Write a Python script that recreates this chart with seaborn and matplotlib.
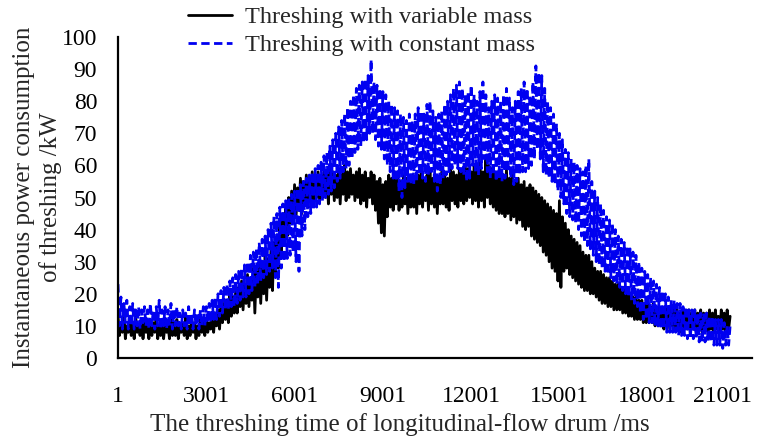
import numpy as np
import pandas as pd
import matplotlib
matplotlib.use("Agg")
import matplotlib.pyplot as plt
import matplotlib.transforms as mtransforms
import seaborn as sns

# sample times (ms), one reading every 50 ms
time_ms = np.arange(1, 20802, 50)

# Threshing with variable mass (kW) (20 readings per second)
variable_mass = [
    13, 7, 11, 8, 14, 6, 10, 8, 12, 7, 11, 6, 13, 8, 10, 7, 12, 6, 11, 8,
    10, 6, 12, 7, 11, 8, 13, 6, 10, 7, 12, 6, 11, 8, 10, 6, 12, 7, 11, 7,
    12, 6, 10, 8, 11, 7, 13, 6, 10, 7, 12, 8, 11, 6, 10, 7, 12, 8, 11, 7,
    12, 8, 11, 9, 13, 8, 14, 10, 15, 9, 16, 11, 17, 12, 18, 11, 20, 13, 19, 14,
    21, 14, 22, 16, 24, 15, 23, 17, 26, 16, 25, 18, 28, 14, 27, 19, 29, 17, 30, 20,
    32, 18, 31, 22, 34, 21, 36, 26, 38, 28, 42, 32, 44, 36, 48, 38, 50, 42, 52, 43,
    54, 44, 53, 46, 56, 45, 55, 48, 57, 47, 56, 49, 58, 48, 57, 50, 58, 49, 57, 50,
    58, 50, 57, 48, 59, 51, 58, 49, 57, 50, 59, 48, 58, 51, 60, 49, 58, 50, 59, 51,
    57, 49, 58, 50, 59, 48, 57, 49, 58, 47, 56, 50, 58, 48, 57, 46, 55, 42, 56, 39,
    54, 38, 55, 44, 57, 47, 56, 46, 58, 48, 57, 46, 55, 47, 57, 48, 56, 45, 55, 47,
    57, 47, 56, 45, 57, 48, 58, 47, 56, 49, 57, 46, 58, 48, 56, 47, 57, 45, 56, 48,
    58, 48, 57, 47, 56, 46, 59, 49, 58, 48, 57, 47, 59, 49, 58, 48, 60, 49, 59, 50,
    58, 48, 60, 49, 59, 47, 61, 49, 58, 47, 62, 50, 60, 48, 59, 47, 58, 46, 57, 45,
    58, 45, 57, 44, 59, 45, 56, 43, 57, 44, 55, 42, 56, 43, 54, 41, 55, 40, 53, 41,
    54, 38, 53, 37, 52, 36, 51, 35, 50, 33, 49, 32, 48, 30, 47, 28, 46, 27, 45, 24,
    49, 22, 44, 27, 42, 28, 40, 26, 38, 25, 37, 24, 36, 23, 35, 22, 33, 21, 32, 21,
    32, 20, 30, 20, 28, 19, 27, 18, 27, 17, 26, 17, 25, 16, 25, 16, 24, 15, 23, 15,
    23, 15, 22, 14, 22, 14, 21, 13, 20, 13, 19, 12, 19, 12, 18, 12, 18, 11, 17, 11,
    17, 11, 16, 11, 17, 10, 16, 10, 16, 10, 15, 9, 16, 10, 15, 9, 15, 10, 15, 9,
    15, 9, 14, 8, 15, 9, 14, 9, 15, 8, 14, 9, 15, 8, 14, 9, 15, 8, 14, 9,
    14, 8, 15, 9, 14, 8, 15, 9, 13, 8, 15, 9, 14, 8, 15, 9, 13,
]

# Threshing with constant mass (kW) (20 readings per second)
constant_mass = [
    23, 10, 19, 9, 17, 11, 18, 9, 16, 10, 17, 9, 15, 10, 16, 9, 15, 11, 16, 10,
    15, 9, 17, 10, 15, 9, 16, 10, 18, 9, 15, 10, 16, 9, 15, 10, 17, 9, 15, 10,
    16, 10, 14, 9, 15, 10, 14, 9, 16, 10, 14, 9, 15, 10, 14, 9, 15, 10, 16, 10,
    16, 11, 17, 11, 18, 12, 19, 12, 20, 13, 21, 14, 22, 15, 23, 15, 24, 16, 25, 16,
    26, 17, 27, 18, 28, 19, 29, 19, 30, 20, 32, 21, 33, 22, 34, 23, 36, 24, 37, 25,
    38, 26, 40, 27, 42, 28, 44, 25, 45, 22, 47, 28, 48, 30, 49, 31, 50, 32, 51, 33,
    52, 30, 53, 27, 54, 38, 55, 40, 56, 44, 57, 45, 58, 46, 59, 47, 60, 48, 61, 49,
    63, 50, 64, 51, 66, 52, 68, 53, 70, 55, 72, 56, 74, 58, 76, 59, 78, 60, 80, 62,
    82, 64, 84, 65, 85, 66, 86, 67, 87, 68, 88, 70, 93, 70, 86, 68, 85, 66, 84, 65,
    83, 62, 82, 60, 80, 58, 79, 56, 78, 55, 77, 52, 76, 50, 75, 53, 74, 55, 76, 54,
    74, 54, 76, 55, 78, 57, 77, 56, 76, 55, 79, 57, 80, 58, 77, 55, 75, 52, 76, 54,
    77, 56, 79, 57, 80, 58, 82, 59, 84, 60, 85, 59, 86, 58, 84, 57, 82, 55, 83, 56,
    85, 60, 82, 58, 80, 57, 83, 59, 86, 62, 82, 58, 78, 56, 80, 57, 82, 55, 81, 56,
    80, 55, 82, 56, 84, 58, 81, 56, 78, 54, 80, 55, 83, 57, 84, 58, 86, 58, 84, 59,
    82, 60, 86, 62, 91, 65, 89, 62, 88, 58, 84, 57, 80, 56, 78, 55, 76, 54, 73, 52,
    70, 50, 68, 48, 65, 45, 64, 44, 62, 43, 61, 42, 60, 40, 59, 38, 58, 36, 60, 35,
    62, 34, 55, 32, 52, 30, 50, 29, 48, 28, 46, 27, 44, 26, 43, 25, 42, 24, 40, 23,
    38, 22, 37, 21, 36, 20, 35, 19, 34, 18, 33, 17, 32, 16, 30, 14, 28, 12, 27, 12,
    26, 11, 25, 11, 24, 10, 23, 10, 22, 9, 21, 9, 20, 8, 19, 8, 18, 8, 18, 8,
    17, 7, 17, 7, 16, 7, 16, 6, 15, 6, 15, 6, 15, 6, 14, 5, 14, 5, 14, 5,
    14, 5, 13, 5, 13, 4, 12, 4, 12, 4, 12, 3, 11, 4, 10, 4, 10,
]

x_ticks = [1, 3001, 6001, 9001, 12001, 15001, 18001, 21001]
y_ticks = [0, 10, 20, 30, 40, 50, 60, 70, 80, 90, 100]
labels = ["Threshing with variable mass", "Threshing with constant mass"]

sns.set_style("white")
plt.rcParams["font.family"] = ["Liberation Serif", "DejaVu Serif"]

fig = plt.figure(figsize=(7.58, 4.43), dpi=100)
ax = fig.add_axes([118 / 758, 1 - 358 / 443, (752 - 118) / 758, (358 - 37) / 443])

df = pd.DataFrame({"t": time_ms, "v": variable_mass, "c": constant_mass})
sns.lineplot(data=df, x="t", y="v", ax=ax, color="black", lw=1.6,
             estimator=None, sort=False, label=labels[0])
sns.lineplot(data=df, x="t", y="c", ax=ax, color="#0000F0", lw=1.6,
             estimator=None, sort=False, label=labels[1],
             linestyle=(0, (3.0, 1.6)))

ax.set_xlim(1, 21545)
ax.set_ylim(0, 100)
ax.set_xticks(x_ticks)
ax.set_xticklabels([str(v) for v in x_ticks])
ax.set_yticks(y_ticks)
for s in ["top", "right"]:
    ax.spines[s].set_visible(False)
for s in ["left", "bottom"]:
    ax.spines[s].set_linewidth(1.6)
    ax.spines[s].set_color("black")
ax.tick_params(axis="both", direction="in", length=6, width=1.6,
               labelsize=17, colors="black")
ax.tick_params(axis="y", pad=15)
ax.tick_params(axis="x", pad=20)

# last tick label pushed left to stay within the figure, as in the reference
last = ax.get_xticklabels()[-1]
last.set_ha("right")
last.set_transform(last.get_transform() +
                   mtransforms.ScaledTranslation(16 / 100, 0, fig.dpi_scale_trans))

ax.set_xlabel("The threshing time of longitudinal-flow drum /ms", fontsize=18)
ax.set_ylabel("Instantaneous power consumption\nof threshing /kW", fontsize=18,
              linespacing=1.2)
ax.xaxis.set_label_coords(0.445, -0.172)
ax.yaxis.set_label_coords(-0.089, 0.5)

ax.legend_.remove()
h, l = ax.get_legend_handles_labels()
for hh in h:
    hh.set_linewidth(2.0)
fig.legend(h, l, loc="upper left", bbox_to_anchor=(188 / 758, 1 - 6 / 443),
           frameon=False, fontsize=17.5, handlelength=1.8, handletextpad=0.55,
           labelspacing=0.25, borderpad=0, borderaxespad=0)

fig.savefig("out.png", dpi=100)
